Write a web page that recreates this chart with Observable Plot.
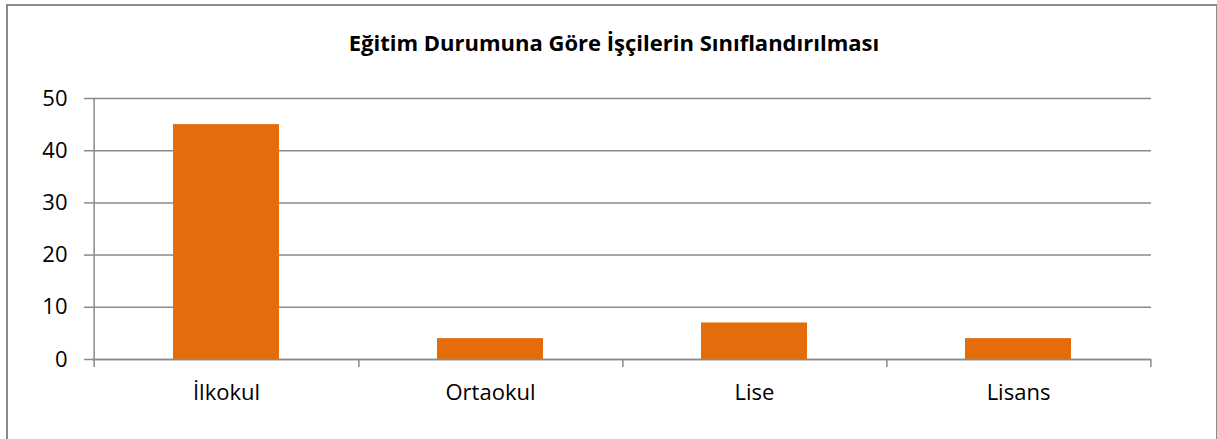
<!DOCTYPE html>
<html>
<head>
<meta charset="utf-8">
<script src="https://cdn.jsdelivr.net/npm/d3@7"></script>
<script src="https://cdn.jsdelivr.net/npm/@observablehq/plot@0.6"></script>
<style>
  html, body { margin: 0; padding: 0; background: #fff; }
  body { width: 1217px; height: 439px; position: relative; overflow: hidden; font-family: "Open Sans", sans-serif; }
  #frame { position: absolute; left: 6px; top: 4px; width: 1208px; height: 440px; border: 2px solid #8a8a8a; border-bottom: none; }
  #title { position: absolute; left: 0; width: 1228px; top: 31px; text-align: center; font-weight: bold; font-size: 22px; color: #000; line-height: 1; }
  #chart { position: absolute; left: 0; top: 0; }
</style>
</head>
<body>
<div id="frame"></div>
<div id="title"></div>
<div id="chart"></div>
<script>
const title = "Eğitim Durumuna Göre İşçilerin Sınıflandırılması";
const categories = ["İlkokul", "Ortaokul", "Lise", "Lisans"];
const values = [45, 4, 7, 4];
const yTicks = [0, 10, 20, 30, 40, 50];

document.getElementById("title").textContent = title;

const data = categories.map((c, i) => ({category: c, value: values[i]}));

const W = 1217, H = 439, mL = 92, mR = 66, mT = 98, mB = 80;
const step = (W - mL - mR) / categories.length;
const gray = "#8a8a8a";

const plot = Plot.plot({
  width: W,
  height: H,
  marginLeft: mL,
  marginRight: mR,
  marginTop: mT,
  marginBottom: mB,
  style: {fontFamily: "'Open Sans', sans-serif", fontSize: "22px", color: "#000", background: "transparent"},
  x: {domain: categories, paddingInner: 0.6, paddingOuter: 0.3, label: null},
  y: {domain: [0, 50], label: null},
  marks: [
    Plot.gridY(yTicks, {stroke: gray, strokeOpacity: 1, strokeWidth: 1.5}),
    Plot.barY(data, {x: "category", y: "value", fill: "#E46C0A"}),
    Plot.axisY(yTicks, {tickSize: 8, tickPadding: 17, stroke: gray, strokeWidth: 1.5, fill: "#000", fontSize: 22, label: null}),
    Plot.ruleX([0], {x: () => categories[0], dx: -step / 2, y1: 50, y2: 0, insetBottom: -8, stroke: gray, strokeWidth: 1.5}),
    Plot.ruleX(categories, {x: d => d, dx: step / 2, y1: 0, y2: 0, insetBottom: -8, stroke: gray, strokeWidth: 1.5}),
    Plot.ruleY([0], {stroke: gray, strokeWidth: 1.5}),
    Plot.axisX({tickSize: 0, tickPadding: 25, fill: "#000", fontSize: 22, label: null})
  ]
});
document.getElementById("chart").appendChild(plot);
</script>
</body>
</html>
